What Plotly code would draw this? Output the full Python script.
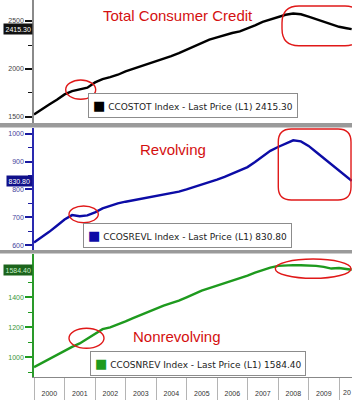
import pandas as pd
import plotly.graph_objects as go

# ---- data (quarterly, in $bn) ----
dates = list(pd.date_range("2000-01-01", "2010-04-01", freq="QS").strftime("%Y-%m-%d")) + ["2010-06-01"]

total = [1525, 1580, 1630, 1680, 1735, 1770, 1790, 1805, 1860, 1895, 1915, 1940,
         1975, 2000, 2030, 2055, 2080, 2105, 2135, 2165, 2200, 2240, 2275, 2305,
         2330, 2355, 2375, 2392, 2420, 2455, 2490, 2515, 2545, 2565, 2578, 2570,
         2545, 2520, 2495, 2465, 2440, 2425, 2415.3]
revolving = [610, 628, 648, 670, 692, 708, 704, 707, 718, 732, 742, 750,
             756, 761, 766, 772, 776, 781, 786, 792, 800, 808, 816, 825,
             835, 845, 856, 866, 880, 898, 918, 938, 952, 964, 976, 972,
             956, 934, 912, 889, 866, 845, 830.8]
nonrevolving = [935, 962, 992, 1020, 1047, 1070, 1093, 1125, 1155, 1188, 1200, 1218,
                1240, 1262, 1283, 1305, 1325, 1345, 1362, 1378, 1400, 1425, 1445, 1462,
                1478, 1495, 1510, 1525, 1545, 1565, 1582, 1598, 1610, 1614, 1615, 1614,
                1612, 1610, 1603, 1592, 1596, 1590, 1584.4]

titles = ["Total Consumer Credit", "Revolving", "Nonrevolving"]
tickers = ["CCOSTOT", "CCOSREVL", "CCOSNREV"]
last_labels = ["2415.30", "830.80", "1584.40"]
ytickvals = [[1500, 2000, 2500], [600, 700, 800, 900, 1000], [1000, 1200, 1400]]
edge_year_label = "20"   # the 2010 label is cut off by the right edge in the source

# ---- layout helpers (pixel -> paper) ----
W, L, PB = 352, 34, 377
def px(x):
    return (x - L) / (W - L)
def py(y):
    return (PB - y) / PB

colors = ["#000000", "#0c0ca6", "#1e9a1e"]
tickcols = ["#111111", "#1a1aa0", "#1e9a1e"]
labcols = ["#444444", "#44449a", "#3a963a"]
axlinecols = ["#8a8a8a", "#2a2ab0", "#2a9a2a"]
boxcols = ["#111111", "#10108a", "#1c641c"]
boxtext = ["#ffffff", "#ffffff", "#c8f0c8"]
series = [total, revolving, nonrevolving]

fig = go.Figure()
for i, s in enumerate(series):
    n = "" if i == 0 else str(i + 1)
    fig.add_trace(go.Scatter(x=dates, y=s, mode="lines", xaxis="x" + n, yaxis="y" + n,
                             line=dict(color=colors[i], width=2.4), showlegend=False,
                             hoverinfo="skip"))

domains = [[py(123), 1.0], [py(250), py(128)], [0.0, py(254)]]
ranges = [[1437, 2719], [583, 1020], [869, 1689]]
minors = [250, 50, 100]
xr = ["2000-01-01", "2010-06-05"]

lay = dict(width=352, height=400, margin=dict(l=L, r=0, t=0, b=400 - PB, autoexpand=False),
           paper_bgcolor="white", plot_bgcolor="white", showlegend=False,
           font=dict(family="Liberation Sans", size=7, color="#333"))
for i in range(3):
    n = "" if i == 0 else str(i + 1)
    lay["yaxis" + n] = dict(domain=domains[i], range=ranges[i], anchor="x" + n,
                            automargin=False, tickmode="array", tickvals=ytickvals[i],
                            showgrid=False, zeroline=False,
                            showline=True, linecolor=axlinecols[i], linewidth=1.5,
                            ticks="outside", ticklen=7, tickwidth=2, tickcolor=tickcols[i],
                            tickfont=dict(size=7, color=labcols[i], family="Liberation Sans"),
                            minor=dict(dtick=minors[i], tick0=0, ticks="outside", ticklen=4,
                                       tickwidth=1, tickcolor=tickcols[i]))
    xa = dict(domain=[0, 1], range=xr, type="date", anchor="y" + n, showgrid=False,
              zeroline=False, automargin=False)
    if i < 2:
        xa.update(showticklabels=False, ticks="", showline=False, matches="x3")
    else:
        xa.update(showline=True, linecolor="#888", linewidth=1.2, ticks="outside",
                  ticklen=23, tickwidth=1, tickcolor="#b4b4b4", dtick="M12",
                  tick0="2000-01-01", tickformat="%Y", ticklabelmode="period",
                  ticklabelstandoff=-14,
                  tickfont=dict(size=7, color="#333", family="Liberation Sans"))
    lay["xaxis" + n] = xa
fig.update_layout(**lay)

# separators between panels
shapes = []
for (y0, y1) in [(123, 127.5), (250, 253.5)]:
    shapes.append(dict(type="rect", xref="paper", yref="paper", x0=px(0), x1=1.02,
                       y0=py(y1), y1=py(y0), fillcolor="#9a9a9a", line=dict(width=0),
                       layer="above"))

red = dict(color="#e01818", width=1.4)
for (x0, y0, x1, y1) in [(65.7, 80, 95.7, 99.3), (69, 206, 98.3, 222.7),
                         (69, 328.3, 104, 348.3), (275.3, 259, 351, 278.3)]:
    shapes.append(dict(type="circle", xref="paper", yref="paper", x0=px(x0), x1=px(x1),
                       y0=py(y1), y1=py(y0), line=red))

def rrect(x0, y0, x1, y1, r):
    pts = [("M", x0 + r, y0), ("L", x1 - r, y0), ("Q", x1, y0, x1, y0 + r),
           ("L", x1, y1 - r), ("Q", x1, y1, x1 - r, y1), ("L", x0 + r, y1),
           ("Q", x0, y1, x0, y1 - r), ("L", x0, y0 + r), ("Q", x0, y0, x0 + r, y0)]
    out = []
    for p in pts:
        c = p[0]
        coords = p[1:]
        s = []
        for k in range(0, len(coords), 2):
            s.append(f"{px(coords[k]):.4f},{py(coords[k+1]):.4f}")
        out.append(c + " " + " ".join(s))
    return " ".join(out) + " Z"

for (x0, y0, x1, y1, r) in [(282, 6, 362, 45.7, 17), (278.3, 129, 351, 200, 13)]:
    shapes.append(dict(type="path", xref="paper", yref="paper", path=rrect(x0, y0, x1, y1, r),
                       line=red))
fig.update_layout(shapes=shapes)

ann = []
# red titles
for t, (cx, cy) in zip(titles, [(178, 15.5), (172.5, 149.5), (176.5, 336)]):
    ann.append(dict(text=t, xref="paper", yref="paper", x=px(cx), y=py(cy), showarrow=False,
                    xanchor="center", yanchor="middle",
                    font=dict(family="Liberation Sans", size=15, color="#d41010")))
# last value boxes
for i in range(3):
    n = "" if i == 0 else str(i + 1)
    ann.append(dict(text=last_labels[i], xref="paper", yref="y" + n, x=px(33),
                    y=series[i][-1], xanchor="right", yanchor="middle", showarrow=False,
                    bgcolor=boxcols[i], borderpad=1.5,
                    font=dict(family="Liberation Sans", size=7, color=boxtext[i])))
# legend boxes
for i, (lx, ly) in enumerate([(88, 118), (83, 248), (90, 376)]):
    txt = (f'<span style="color:{colors[i]};font-size:13px">■</span> '
           f'{tickers[i]} Index - Last Price (L1) {last_labels[i]}')
    ann.append(dict(text=txt, xref="paper", yref="paper", x=px(lx), y=py(ly),
                    xanchor="left", yanchor="bottom", showarrow=False, bgcolor="white",
                    bordercolor="#8c8c8c", borderwidth=1, borderpad=4,
                    font=dict(family="DejaVu Sans", size=9, color="#222")))
# partially visible last year label at the right edge
ann.append(dict(text=edge_year_label, xref="paper", yref="paper", x=1.0, y=py(392.7),
                xanchor="right", yanchor="middle", showarrow=False, borderpad=0,
                font=dict(family="Liberation Sans", size=7, color="#333")))
fig.update_layout(annotations=ann)

fig.write_html("out.html")
